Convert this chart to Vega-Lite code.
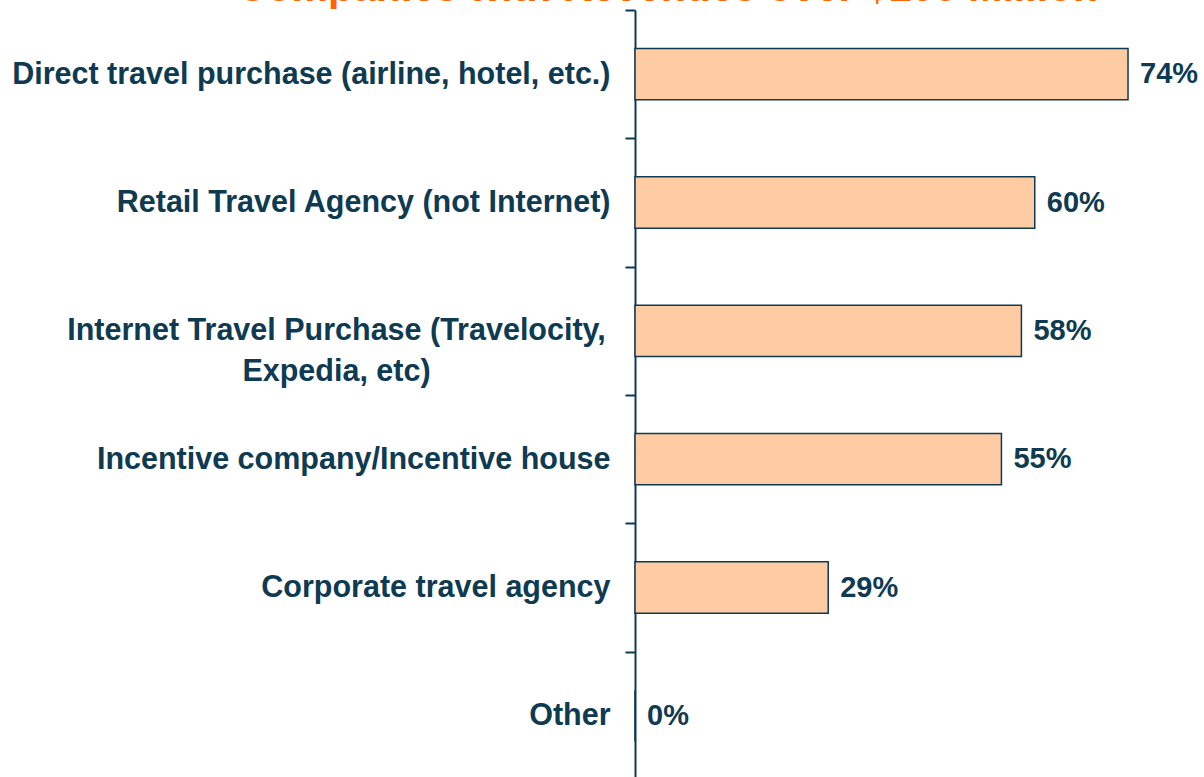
{
  "$schema": "https://vega.github.io/schema/vega-lite/v6.json",
  "autosize": {"type": "none"},
  "padding": {"left": 635, "top": 10, "right": 36, "bottom": 0},
  "width": 533,
  "height": 770,
  "background": "white",
  "title": {
    "text": "Companies with Revenues over $100 Million",
    "font": "Liberation Sans",
    "fontSize": 41,
    "fontWeight": "bold",
    "color": "#FF6600",
    "anchor": "middle",
    "dx": -234,
    "offset": 0,
    "dy": 33,
    "baseline": "alphabetic"
  },
  "data": {
    "values": [
      {"method": "Direct travel purchase (airline, hotel, etc.)", "share": 0.74},
      {"method": "Retail Travel Agency (not Internet)", "share": 0.60},
      {"method": "Internet Travel Purchase (Travelocity,|Expedia, etc)", "share": 0.58},
      {"method": "Incentive company/Incentive house", "share": 0.55},
      {"method": "Corporate travel agency", "share": 0.29},
      {"method": "Other", "share": 0.0}
    ]
  },
  "encoding": {
    "y": {
      "field": "method",
      "type": "nominal",
      "sort": null,
      "scale": {"paddingInner": 0.6, "paddingOuter": 0.3},
      "axis": {
        "title": null,
        "domainColor": "#0E3A52",
        "domainWidth": 2,
        "tickColor": "#0E3A52",
        "tickWidth": 2,
        "tickSize": 10,
        "tickOffset": -64.17,
        "labelOffset": 64.17,
        "labelFont": "Liberation Sans",
        "labelFontSize": 30.5,
        "labelFontWeight": "bold",
        "labelColor": "#0E3A52",
        "labelLimit": 0,
        "labelPadding": {"condition": {"test": "indexof(datum.label, '|') >= 0", "value": 289}, "value": 15},
        "labelAlign": {"condition": {"test": "indexof(datum.label, '|') >= 0", "value": "center"}, "value": "right"},
        "labelBaseline": "middle",
        "labelLineHeight": 41,
        "labelExpr": "split(datum.label, '|')"
      }
    },
    "x": {
      "field": "share",
      "type": "quantitative",
      "scale": {"domain": [0, 0.8], "nice": false},
      "axis": null
    }
  },
  "layer": [
    {
      "mark": {"type": "bar", "fill": "#FECBA2", "stroke": "#0E3A52", "strokeWidth": 1.5}
    },
    {
      "mark": {
        "type": "text",
        "align": "left",
        "baseline": "middle",
        "dx": 12,
        "font": "Liberation Sans",
        "fontSize": 29,
        "fontWeight": "bold",
        "color": "#0E3A52"
      },
      "encoding": {
        "text": {"field": "share", "type": "quantitative", "format": ".0%"}
      }
    }
  ],
  "config": {"view": {"stroke": null}}
}
